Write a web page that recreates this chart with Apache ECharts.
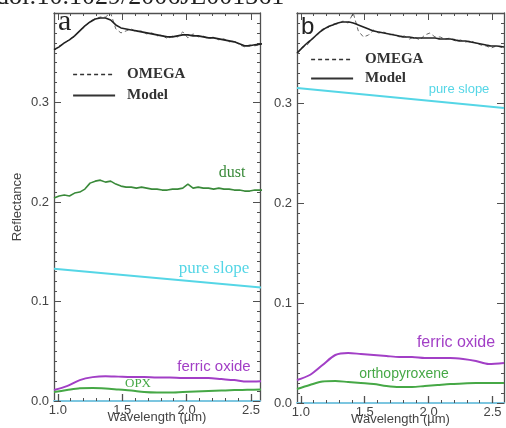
<!DOCTYPE html>
<html><head><meta charset="utf-8">
<script src="https://cdn.jsdelivr.net/npm/echarts@6/dist/echarts.min.js"></script>
<style>html,body{margin:0;padding:0;background:#fff}#c{width:506px;height:428px}</style>
</head><body><div id="c"></div>
<script>
// ---- data ----
var wlFine = [0.97,1.01,1.05,1.09,1.13,1.17,1.21,1.25,1.29,1.33,1.37,1.41,1.45,1.49,1.53,1.57,1.61,1.65,1.69,1.73,1.77,1.81,1.85,1.89,1.93,1.97,2.01,2.05,2.09,2.13,2.17,2.21,2.25,2.29,2.33,2.37,2.41,2.45,2.49,2.53,2.59];
var wlCoarse = [0.97,1.07,1.17,1.27,1.37,1.47,1.57,1.67,1.77,1.87,1.97,2.07,2.17,2.27,2.37,2.47,2.59];
var wlSlope = [0.97,2.59];

var omegaA = [0.352,0.357,0.359,0.364,0.366,0.373,0.376,0.382,0.384,0.386,0.386,0.390,0.374,0.370,0.372,0.374,0.371,0.372,0.369,0.370,0.367,0.368,0.364,0.367,0.366,0.371,0.365,0.369,0.366,0.367,0.364,0.366,0.363,0.364,0.361,0.362,0.358,0.356,0.358,0.357,0.359];
var modelA = [0.353,0.356,0.360,0.363,0.367,0.372,0.377,0.381,0.384,0.385,0.385,0.383,0.378,0.375,0.374,0.373,0.372,0.371,0.370,0.369,0.368,0.367,0.366,0.366,0.367,0.368,0.368,0.367,0.367,0.366,0.365,0.365,0.364,0.363,0.362,0.361,0.359,0.357,0.357,0.358,0.359];
var dustA = [0.204,0.206,0.207,0.206,0.209,0.210,0.213,0.219,0.221,0.222,0.220,0.221,0.218,0.216,0.215,0.215,0.214,0.215,0.214,0.213,0.213,0.212,0.212,0.213,0.213,0.214,0.218,0.214,0.215,0.214,0.214,0.213,0.214,0.213,0.213,0.212,0.212,0.211,0.211,0.212,0.212];
var slopeA = [0.133,0.114];
var ferricA = [0.011,0.015,0.021,0.024,0.025,0.0245,0.024,0.024,0.0235,0.0235,0.023,0.023,0.023,0.022,0.021,0.0195,0.020];
var opxA = [0.009,0.011,0.0128,0.013,0.0125,0.0115,0.0105,0.009,0.0085,0.0085,0.009,0.0095,0.010,0.0105,0.011,0.0112,0.0115];

var omegaB = [0.349,0.356,0.358,0.365,0.368,0.374,0.375,0.379,0.379,0.382,0.380,0.390,0.372,0.366,0.368,0.373,0.370,0.371,0.368,0.369,0.366,0.367,0.364,0.366,0.363,0.368,0.370,0.366,0.366,0.364,0.365,0.362,0.363,0.361,0.362,0.360,0.358,0.357,0.355,0.357,0.355];
var modelB = [0.350,0.355,0.360,0.364,0.369,0.373,0.376,0.378,0.380,0.381,0.381,0.380,0.378,0.376,0.374,0.372,0.371,0.370,0.369,0.368,0.367,0.366,0.366,0.365,0.365,0.365,0.365,0.365,0.364,0.364,0.364,0.363,0.362,0.362,0.361,0.360,0.359,0.358,0.357,0.357,0.356];
var slopeB = [0.315,0.295];
var ferricB = [0.023,0.028,0.038,0.048,0.050,0.049,0.048,0.047,0.046,0.046,0.045,0.045,0.045,0.044,0.042,0.039,0.040];
var opxB = [0.014,0.018,0.0215,0.022,0.021,0.020,0.019,0.017,0.016,0.016,0.017,0.018,0.019,0.0195,0.020,0.020,0.020];

var xMajorTicks = [1.0,1.5,2.0,2.5];
var yMajorTicks = [0.0,0.1,0.2,0.3];
var xMinorTicks = []; for (var i = 10; i <= 25; i++) xMinorTicks.push(i / 10);
var yMinorTicks = []; for (var j = 0; j <= 39; j++) yMinorTicks.push(j / 100);

function pairs(xs, ys) { return xs.map(function (x, k) { return [x, ys[k]]; }); }

// ---- styles ----
var AX = '#505050';
var PURPLE = '#a23fc6', GREEN_D = '#3a8a3a', GREEN = '#46a846', CYAN = '#55d6e6';
var SANS = 'Liberation Sans, Arial, sans-serif', SERIF = 'Liberation Serif, Times New Roman, serif';

function xAxes(gi, min, max, withName) {
  var base = { type: 'value', gridIndex: gi, min: min, max: max, splitLine: { show: false } };
  return [
    Object.assign({}, base, { position: 'bottom',
      axisLine: { show: true, onZero: false, lineStyle: { color: '#7cc6e0', width: 2 } },
      axisTick: { show: true, inside: true, length: 7, customValues: xMajorTicks, lineStyle: { color: AX, width: 1.3 } },
      axisLabel: { show: true, customValues: xMajorTicks, margin: 3, color: '#444', fontSize: 13, fontFamily: SANS, formatter: function (v) { return v.toFixed(1); } },
      name: withName ? 'Wavelength (\u00b5m)' : '', nameLocation: 'middle', nameGap: 10, nameMoveOverlap: false,
      nameTextStyle: { color: '#444', fontSize: 13, fontFamily: SANS } }),
    Object.assign({}, base, { position: 'bottom', axisLine: { show: false, onZero: false },
      axisTick: { show: true, inside: true, length: 3, customValues: xMinorTicks, lineStyle: { color: AX } }, axisLabel: { show: false } }),
    Object.assign({}, base, { position: 'top', axisLine: { show: true, onZero: false, lineStyle: { color: AX, width: 1.3 } },
      axisTick: { show: true, inside: true, length: 7, customValues: xMajorTicks, lineStyle: { color: AX } }, axisLabel: { show: false } }),
    Object.assign({}, base, { position: 'top', axisLine: { show: false, onZero: false },
      axisTick: { show: true, inside: true, length: 3, customValues: xMinorTicks, lineStyle: { color: AX } }, axisLabel: { show: false } })
  ];
}
function yAxes(gi, withName) {
  var base = { type: 'value', gridIndex: gi, min: 0, max: 0.39, splitLine: { show: false } };
  return [
    Object.assign({}, base, { position: 'left', axisLine: { show: true, onZero: false, lineStyle: { color: AX, width: 1.3 } },
      axisTick: { show: true, inside: true, length: 7, customValues: yMajorTicks, lineStyle: { color: AX } },
      axisLabel: { show: true, customValues: yMajorTicks, margin: 5, color: '#444', fontSize: 13, fontFamily: SANS, formatter: function (v) { return v.toFixed(1); } },
      name: withName ? 'Reflectance' : '', nameLocation: 'middle', nameGap: 30, nameMoveOverlap: false,
      nameTextStyle: { color: '#444', fontSize: 13, fontFamily: SANS } }),
    Object.assign({}, base, { position: 'left', axisLine: { show: false, onZero: false },
      axisTick: { show: true, inside: true, length: 3, customValues: yMinorTicks, lineStyle: { color: AX } }, axisLabel: { show: false } }),
    Object.assign({}, base, { position: 'right', axisLine: { show: true, onZero: false, lineStyle: { color: AX, width: 1.3 } },
      axisTick: { show: true, inside: true, length: 7, customValues: yMajorTicks, lineStyle: { color: AX } }, axisLabel: { show: false } }),
    Object.assign({}, base, { position: 'right', axisLine: { show: false, onZero: false },
      axisTick: { show: true, inside: true, length: 3, customValues: yMinorTicks, lineStyle: { color: AX } }, axisLabel: { show: false } })
  ];
}

function line(name, xi, data, color, width, type, smooth) {
  return { type: 'line', name: name, xAxisIndex: xi, yAxisIndex: xi, data: data, symbol: 'none', smooth: smooth ? 0.3 : false,
    silent: true, animation: false, clip: true,
    lineStyle: { color: color, width: width, type: type || 'solid' }, itemStyle: { color: color } };
}

var series = [
  line('OMEGA', 0, pairs(wlFine, omegaA), '#666', 1, [4, 3]),
  line('Model', 0, pairs(wlFine, modelA), '#222', 1.6),
  line('dust', 0, pairs(wlFine, dustA), GREEN_D, 1.6),
  line('pure slope', 0, pairs(wlSlope, slopeA), CYAN, 2),
  line('ferric oxide', 0, pairs(wlCoarse, ferricA), PURPLE, 2, 'solid', true),
  line('OPX', 0, pairs(wlCoarse, opxA), GREEN, 2, 'solid', true),
  line('OMEGA', 4, pairs(wlFine, omegaB), '#666', 1, [4, 3]),
  line('Model', 4, pairs(wlFine, modelB), '#222', 1.6, 'solid', true),
  line('pure slope', 4, pairs(wlSlope, slopeB), CYAN, 2),
  line('ferric oxide', 4, pairs(wlCoarse, ferricB), PURPLE, 2, 'solid', true),
  line('orthopyroxene', 4, pairs(wlCoarse, opxB), GREEN, 2, 'solid', true)
];

function legend(left, top, gap) {
  return { left: left, top: top, orient: 'vertical', itemWidth: 42, itemHeight: 14, itemGap: gap, selectedMode: false,
    data: [
      { name: 'OMEGA', lineStyle: { color: '#333', width: 1.6, type: [4, 3] } },
      { name: 'Model', lineStyle: { color: '#333', width: 2.2, type: 'solid' } }
    ],
    itemStyle: { color: 'transparent', borderWidth: 0, opacity: 0 },
    textStyle: { fontFamily: SERIF, fontWeight: 'bold', fontSize: 15, color: '#333', lineHeight: 14, padding: [0, 0, 0, 7] } };
}

function txt(x, y, s, color, size, family) {
  return { type: 'text', x: x, y: y, silent: true,
    style: { text: s, fill: color, font: size + 'px ' + family, align: 'center', verticalAlign: 'middle' } };
}

var option = {
  backgroundColor: '#fff',
  animation: false,
  grid: [
    { left: 54, top: 13, width: 206, height: 388, outerBoundsMode: 'none' },
    { left: 297, top: 13, width: 207, height: 390, outerBoundsMode: 'none' }
  ],
  xAxis: xAxes(0, 0.97, 2.57, true).concat(xAxes(1, 0.97, 2.59, true)),
  yAxis: yAxes(0, true).concat(yAxes(1, false)),
  legend: [legend(67, 62, 6), legend(305, 47, 4)],
  series: series,
  graphic: [
    { type: 'text', x: -4, y: 10, silent: true, style: { text: 'doi:10.1029/2006JE001361', fill: '#222', font: '26px ' + SERIF, verticalAlign: 'bottom' } },
    { type: 'text', x: 58, y: 37, silent: true, style: { text: 'a', fill: '#222', font: '30px ' + SERIF, verticalAlign: 'bottom' } },
    { type: 'text', x: 301, y: 39, silent: true, style: { text: 'b', fill: '#222', font: '24px ' + SANS, verticalAlign: 'bottom' } },
    txt(232, 173, 'dust', GREEN_D, 16, SERIF),
    txt(214, 269, 'pure slope', CYAN, 17, SERIF),
    txt(214, 367, 'ferric oxide', PURPLE, 15, SANS),
    txt(138, 384, 'OPX', GREEN, 13, SERIF),
    txt(459, 89, 'pure slope', CYAN, 13, SANS),
    txt(456, 343, 'ferric oxide', PURPLE, 16, SANS),
    txt(404, 374, 'orthopyroxene', GREEN, 14, SANS)
  ]
};
var chart = echarts.init(document.getElementById('c'), null, { renderer: 'canvas' });
chart.setOption(option);
</script>
</body></html>
